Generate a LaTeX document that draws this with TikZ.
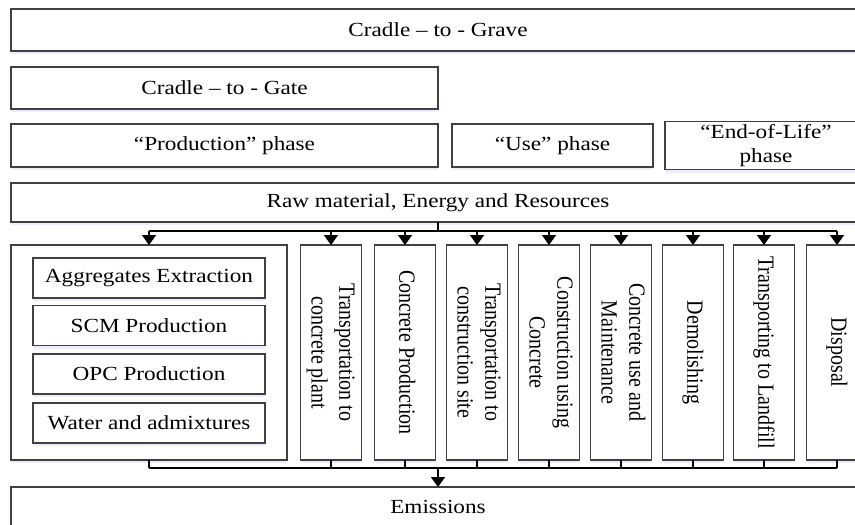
\documentclass[tikz,border=0pt]{standalone}
\usepackage{fontspec}
\setmainfont{Liberation Serif}
\usepackage{graphicx}
\usetikzlibrary{arrows.meta,shadows}
\newcommand{\hs}[1]{\scalebox{1.16}[1]{#1}}
\newcommand{\htwo}[1]{\scalebox{1.16}[1]{\begin{tabular}{@{}c@{}}#1\end{tabular}}}
\newcommand{\vt}[1]{\scalebox{1.16}[1]{\rotatebox{-90}{\begin{tabular}{@{}c@{}}#1\end{tabular}}}}
\begin{document}
\begin{tikzpicture}[x=1pt,y=-1pt,
  font=\fontsize{20}{24}\selectfont,
  box/.style={draw=black!75, line width=1.3pt, fill=white, inner sep=0pt, outer sep=0pt,
    drop shadow={shadow xshift=0pt, shadow yshift=-3pt, fill=blue!7, opacity=1}},
  vbox/.style={box, minimum width=61pt, minimum height=215pt},
  ibox/.style={box, minimum width=232pt, minimum height=40pt},
  conn/.style={line width=1.8pt, black},
  arr/.style={conn, -{Triangle[width=14pt,length=10pt]}}]
\useasboundingbox (0,0) rectangle (855,525);
\clip (0,0) rectangle (855,525);
% top rows
\node[box, minimum width=854pt, minimum height=42pt] (grave) at (438,30) {\hs{Cradle -- to - Grave}};
\node[box, minimum width=427pt, minimum height=42pt] (gate) at (224.5,88) {\hs{Cradle -- to - Gate}};
\node[box, minimum width=427pt, minimum height=43pt] (prod) at (224.5,145.5) {\hs{``Production'' phase}};
\node[box, minimum width=201pt, minimum height=43pt] (use) at (552.5,145.5) {\hs{``Use'' phase}};
\node[box, minimum width=202pt, minimum height=43pt] (eol) at (766,145.5) {\htwo{``End-of-Life''\\[0pt]phase}};
\node[box, minimum width=854pt, minimum height=39pt] (raw) at (438,202.5) {\hs{Raw material, Energy and Resources}};
% lower boxes
\node[box, minimum width=276pt, minimum height=215pt] (lb) at (149,352.5) {};
\node[ibox] (agg) at (149,278) {\hs{Aggregates Extraction}};
\node[ibox] (scm) at (149,325.5) {\hs{SCM Production}};
\node[ibox] (opc) at (149,374) {\hs{OPC Production}};
\node[ibox] (wat) at (149,423) {\hs{Water and admixtures}};
\node[vbox] (v1) at (331,352.5) {\vt{Transportation to\\concrete plant}};
\node[vbox] (v2) at (405,352.5) {\vt{Concrete Production}};
\node[vbox] (v3) at (477,352.5) {\vt{Transportation to\\construction site}};
\node[vbox] (v4) at (549,352.5) {\vt{Construction using\\Concrete}};
\node[vbox] (v5) at (621,352.5) {\vt{Concrete use and\\Maintenance}};
\node[vbox] (v6) at (693,352.5) {\vt{Demolishing}};
\node[vbox] (v7) at (764,352.5) {\vt{Transporting to Landfill}};
\node[vbox] (v8) at (837,352.5) {\vt{Disposal}};
\node[box, minimum width=854pt, minimum height=40pt] (em) at (438,507) {\hs{Emissions}};
% connectors
\coordinate (tb) at (438,231);
\coordinate (bb) at (438,468);
\draw[conn] (raw.south) -- (tb);
\draw[conn] (lb.north |- tb) -- (v8.north |- tb);
\draw[conn] (lb.south |- bb) -- (v8.south |- bb);
\foreach \n in {lb,v1,v2,v3,v4,v5,v6,v7,v8}{
  \draw[arr] (\n.north |- tb) -- (\n.north);
  \draw[conn] (\n.south) -- (\n.south |- bb);
}
\draw[arr] (bb) -- (em.north);
\end{tikzpicture}
\end{document}
